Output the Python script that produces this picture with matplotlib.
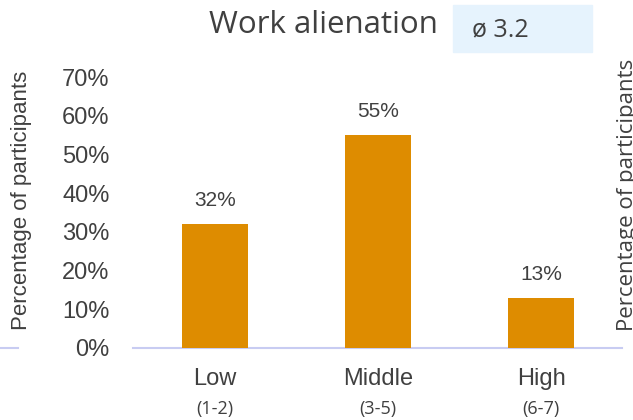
import matplotlib.pyplot as plt

categories = ["Low", "Middle", "High"]
ranges = ["(1-2)", "(3-5)", "(6-7)"]
shares = [0.32, 0.55, 0.13]
yticks = [0, 0.1, 0.2, 0.3, 0.4, 0.5, 0.6, 0.7]
title = "Work alienation"
mean_label = "ø 3.2"
ylabel = "Percentage of participants"

grey = "#404040"
bar_color = "#de8c00"
axis_color = "#c8ccf2"

fig = plt.figure(figsize=(6.33, 4.2), dpi=100)
ax = fig.add_axes([0, 72 / 420, 622 / 633, 271 / 420])

x = list(range(len(categories)))
ax.bar(x, shares, width=0.405, color=bar_color)
for xi, v in zip(x, shares):
    ax.annotate(f"{v:.0%}", (xi, v), xytext=(0, 17), textcoords="offset points",
                ha="center", va="center", fontsize=15, color=grey,
                family="Liberation Sans")

# baseline, broken where the tick labels sit
ax.axhline(0, 0, 18 / 622, color=axis_color, lw=1.5, clip_on=False)
ax.axhline(0, 133 / 622, 1, color=axis_color, lw=1.5, clip_on=False, zorder=0.5)

ax.set_xlim(-215 / 163, 407 / 163)
ax.set_ylim(0, 0.7)
ax.set_yticks(yticks)
ax.set_yticklabels([f"{t:.0%}" for t in yticks], family="Liberation Sans",
                   fontsize=17, color=grey)
ax.tick_params(axis="y", length=0, pad=-79)
ax.set_xticks([])

for s in ax.spines.values():
    s.set_visible(False)

for xi, c, r in zip(x, categories, ranges):
    ax.annotate(c, (xi, 0), xytext=(0, -22), textcoords="offset points",
                ha="center", va="center", fontsize=17, color=grey,
                family="Liberation Sans", annotation_clip=False)
    ax.annotate(r, (xi, 0), xytext=(0, -44), textcoords="offset points",
                ha="center", va="center", fontsize=13, color=grey,
                family="Open Sans", annotation_clip=False)

fig.text(22 / 633, 1 - 200 / 420, ylabel, rotation=90, ha="center", va="center",
         fontsize=16, color=grey, family="Liberation Sans")
fig.text(627 / 633, 1 - 195 / 420, ylabel, rotation=90, ha="center", va="center",
         fontsize=16, color=grey, family="Open Sans")

fig.text(323 / 633, 1 - 25 / 420, title, ha="center", va="center",
         fontsize=22.5, color=grey, family="Open Sans")
fig.patches.append(plt.Rectangle((453 / 633, 1 - 52 / 420), 139 / 633, 47 / 420,
                                 transform=fig.transFigure, color="#e6f3fd",
                                 zorder=0))
fig.text(472 / 633, 1 - 30 / 420, mean_label, ha="left", va="center",
         fontsize=18, color=grey, family="Open Sans")

fig.savefig("out.png", dpi=100)
